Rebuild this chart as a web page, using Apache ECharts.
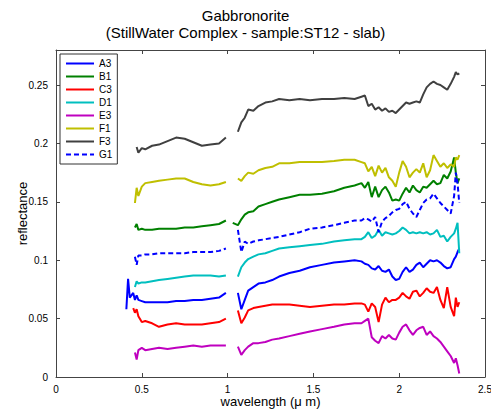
<!DOCTYPE html>
<html>
<head>
<meta charset="utf-8">
<script src="https://cdn.jsdelivr.net/npm/echarts@6/dist/echarts.min.js"></script>
<style>
  html, body { margin: 0; padding: 0; background: #fff; }
  #chart { width: 491px; height: 410px; }
</style>
</head>
<body>
<div id="chart"></div>
<script>
// wavelength (um), null = gap around 1 um
var wavelength = [
  0.41, 0.42, 0.43, 0.45, 0.46, 0.47, 0.48, 0.50, 0.52, 0.56, 0.60, 0.65, 0.70, 0.75, 0.80, 0.85, 0.90, 0.95, 0.99,
  1.01,
  1.03, 1.06, 1.08, 1.10, 1.12, 1.15, 1.18, 1.22, 1.26, 1.30,
  1.36, 1.42, 1.48, 1.55, 1.62, 1.68, 1.74, 1.78, 1.80, 1.82,
  1.84, 1.86, 1.88, 1.90, 1.92, 1.94, 1.96, 1.98, 2.00, 2.02,
  2.04, 2.06, 2.08, 2.10, 2.12, 2.14, 2.16, 2.18, 2.20, 2.22,
  2.24, 2.26, 2.28, 2.30, 2.32, 2.33, 2.34, 2.35
];

var A3 = [
  0.058, 0.084, 0.068, 0.072, 0.066, 0.070, 0.066, 0.065, 0.064, 0.064, 0.064, 0.064, 0.065, 0.065, 0.066, 0.066, 0.067, 0.068, 0.072,
  null,
  null, 0.072, 0.058, 0.066, 0.074, 0.077, 0.080, 0.081, 0.083, 0.086,
  0.089, 0.091, 0.094, 0.096, 0.098, 0.099, 0.100, 0.099, 0.097, 0.096,
  0.093, 0.092, 0.095, 0.091, 0.090, 0.092, 0.086, 0.083, 0.084, 0.090,
  0.094, 0.090, 0.092, 0.096, 0.098, 0.094, 0.097, 0.100, 0.099, 0.100,
  0.098, 0.095, 0.093, 0.094, 0.101, 0.103, 0.107, 0.110
];
var B1 = [
  null, null, null, null, 0.128, 0.131, 0.126, 0.127, 0.126, 0.126, 0.127, 0.127, 0.127, 0.128, 0.128, 0.129, 0.130, 0.131, 0.134,
  null,
  0.132, 0.130, 0.135, 0.139, 0.141, 0.142, 0.146, 0.148, 0.150, 0.152,
  0.154, 0.156, 0.156, 0.157, 0.159, 0.162, 0.164, 0.166, 0.162, 0.167,
  0.154, 0.163, 0.154, 0.160, 0.163, 0.158, 0.151, 0.152, 0.151, 0.157,
  0.162, 0.158, 0.164, 0.160, 0.158, 0.163, 0.162, 0.165, 0.168, 0.165,
  0.166, 0.173, 0.170, 0.176, 0.188, 0.175, 0.166, 0.170
];
var C3 = [
  null, null, null, 0.059, 0.055, 0.058, 0.052, 0.047, 0.048, 0.046, 0.043, 0.045, 0.046, 0.045, 0.045, 0.045, 0.046, 0.047, 0.050,
  null,
  null, 0.057, 0.046, 0.051, 0.057, 0.059, 0.060, 0.061, 0.062, 0.062,
  0.062, 0.061, 0.060, 0.061, 0.062, 0.062, 0.063, 0.063, 0.062, 0.056,
  0.063, 0.060, 0.047, 0.062, 0.068, 0.064, 0.066, 0.066, 0.068, 0.072,
  0.069, 0.067, 0.073, 0.074, 0.069, 0.072, 0.076, 0.073, 0.072, 0.077,
  0.066, 0.059, 0.077, 0.060, 0.052, 0.068, 0.060, 0.064
];
var D1 = [
  null, null, null, null, 0.077, 0.082, 0.080, 0.081, 0.081, 0.082, 0.083, 0.084, 0.085, 0.086, 0.087, 0.087, 0.087, 0.086, 0.087,
  null,
  null, 0.086, 0.094, 0.098, 0.101, 0.103, 0.105, 0.106, 0.108, 0.110,
  0.111, 0.112, 0.113, 0.114, 0.116, 0.117, 0.118, 0.118, 0.120, 0.124,
  0.119, 0.121, 0.126, 0.121, 0.124, 0.123, 0.122, 0.123, 0.125, 0.128,
  0.126, 0.123, 0.124, 0.123, 0.124, 0.123, 0.124, 0.122, 0.123, 0.126,
  0.120, 0.121, 0.116, 0.120, 0.123, 0.127, 0.132, 0.106
];
var E3 = [
  null, null, null, null, 0.021, 0.015, 0.023, 0.025, 0.023, 0.024, 0.025, 0.024, 0.025, 0.026, 0.027, 0.026, 0.027, 0.027, 0.027,
  null,
  null, 0.026, 0.019, 0.023, 0.026, 0.029, 0.029, 0.030, 0.032, 0.033,
  0.035, 0.037, 0.039, 0.041, 0.043, 0.045, 0.046, 0.046, 0.048, 0.050,
  0.034, 0.031, 0.029, 0.035, 0.033, 0.036, 0.033, 0.032, 0.038, 0.043,
  0.045, 0.040, 0.036, 0.040, 0.042, 0.043, 0.036, 0.039, 0.035, 0.033,
  0.030, 0.026, 0.022, 0.018, 0.012, 0.016, 0.010, 0.003
];
var F1 = [
  null, null, null, null, 0.149, 0.162, 0.155, 0.163, 0.166, 0.167, 0.168, 0.169, 0.170, 0.170, 0.167, 0.165, 0.164, 0.165, 0.167,
  null,
  null, 0.170, 0.168, 0.172, 0.175, 0.174, 0.177, 0.179, 0.180, 0.183,
  0.183, 0.184, 0.184, 0.184, 0.185, 0.186, 0.186, 0.184, 0.183, 0.176,
  0.180, 0.172, 0.181, 0.175, 0.179, 0.171, 0.168, 0.163, 0.175, 0.185,
  0.180, 0.171, 0.175, 0.178, 0.175, 0.183, 0.171, 0.177, 0.190, 0.185,
  0.180, 0.183, 0.179, 0.182, 0.180, 0.188, 0.186, 0.190
];
var F3 = [
  null, null, null, null, null, 0.197, 0.192, 0.196, 0.195, 0.198, 0.199, 0.202, 0.205, 0.204, 0.201, 0.198, 0.199, 0.200, 0.205,
  null,
  null, 0.210, 0.218, 0.222, 0.229, 0.228, 0.232, 0.235, 0.236, 0.238,
  0.237, 0.238, 0.237, 0.238, 0.238, 0.239, 0.238, 0.240, 0.241, 0.232,
  0.234, 0.229, 0.231, 0.228, 0.230, 0.227, 0.228, 0.226, 0.229, 0.232,
  0.235, 0.234, 0.235, 0.236, 0.235, 0.242, 0.248, 0.251, 0.253, 0.251,
  0.250, 0.248, 0.246, 0.251, 0.257, 0.261, 0.259, 0.260
];
var G1 = [
  null, null, null, null, 0.103, 0.096, 0.104, 0.104, 0.105, 0.105, 0.106, 0.106, 0.106, 0.106, 0.107, 0.107, 0.107, 0.108, 0.110,
  null,
  null, 0.126, 0.107, 0.116, 0.114, 0.116, 0.117, 0.118, 0.119, 0.120,
  0.122, 0.124, 0.127, 0.128, 0.130, 0.132, 0.134, 0.134, 0.136, 0.135,
  0.133, 0.137, 0.124, 0.133, 0.136, 0.138, 0.141, 0.143, 0.144, 0.148,
  0.150, 0.144, 0.140, 0.137, 0.143, 0.149, 0.152, 0.153, 0.157, 0.153,
  0.149, 0.146, 0.143, 0.140, 0.155, 0.175, 0.166, 0.149
];

var sampleNames = ['A3', 'B1', 'C3', 'D1', 'E3', 'F1', 'F3', 'G1'];
var sampleValues = [A3, B1, C3, D1, E3, F1, F3, G1];
var sampleColors = ['#0000ff', '#008000', '#ff0000', '#00bfbf', '#bf00bf', '#bfbf00', '#404040', '#0000ff'];

var dom = document.getElementById('chart');
var myChart = echarts.init(dom, null, {
  renderer: 'svg',
  useDirtyRect: false
});

var font = 'Liberation Sans, Arial, Helvetica, sans-serif';

var series = sampleNames.map(function (name, k) {
  return {
    name: name,
    type: 'line',
    xAxisIndex: 0,
    yAxisIndex: 0,
    symbol: 'none',
    showSymbol: false,
    connectNulls: false,
    animation: false,
    data: wavelength.map(function (x, i) {
      var v = sampleValues[k][i];
      return [x, v === null ? '-' : v];
    }),
    itemStyle: { color: sampleColors[k] },
    lineStyle: {
      color: sampleColors[k],
      width: 2,
      type: name === 'G1' ? [5, 3] : 'solid'
    }
  };
});

// box axes (top / right) only draw ticks
function frameAxis(pos) {
  return {
    type: 'value',
    position: pos,
    min: 0,
    max: pos === 'top' ? 2.5 : 0.28,
    interval: pos === 'top' ? 0.5 : 0.05,
    axisLine: { show: true, onZero: false, lineStyle: { color: '#444', width: 1 } },
    axisTick: { show: true, inside: true, length: 4, lineStyle: { color: '#444' } },
    axisLabel: { show: false },
    splitLine: { show: false }
  };
}

var option = {
  animation: false,
  backgroundColor: '#fff',
  title: {
    text: 'Gabbronorite',
    subtext: '(StillWater Complex - sample:ST12 - slab)',
    left: 'center',
    top: 0,
    itemGap: 2,
    padding: [8, 0, 0, 49],
    textStyle: {
      fontFamily: font,
      fontSize: 15,
      fontWeight: 'normal',
      color: '#000',
      lineHeight: 15
    },
    subtextStyle: {
      fontFamily: font,
      fontSize: 15,
      color: '#000',
      lineHeight: 15
    }
  },
  legend: {
    data: sampleNames,
    orient: 'vertical',
    left: 60,
    top: 54,
    itemWidth: 28,
    itemHeight: 10,
    itemGap: 0,
    padding: [3, 5, 3, 5],
    borderColor: '#333',
    borderWidth: 1,
    backgroundColor: '#fff',
    itemStyle: { color: 'rgba(0,0,0,0)', opacity: 0, borderWidth: 0 },
    textStyle: { fontFamily: font, fontSize: 10, color: '#000', lineHeight: 13 }
  },
  grid: {
    left: 56,
    right: 6,
    top: 50,
    bottom: 33,
    containLabel: false,
    outerBoundsMode: 'none'
  },
  xAxis: [
    {
      type: 'value',
      min: 0,
      max: 2.5,
      interval: 0.5,
      name: 'wavelength (\u03bc m)',
      nameLocation: 'middle',
      nameGap: 18,
      nameMoveOverlap: false,
      nameTextStyle: { fontFamily: font, fontSize: 13, color: '#000' },
      axisLine: { show: true, onZero: false, lineStyle: { color: '#444', width: 1 } },
      axisTick: { show: true, inside: true, length: 4, lineStyle: { color: '#444' } },
      axisLabel: { fontFamily: font, fontSize: 10, color: '#000', margin: 7 },
      splitLine: { show: false }
    },
    frameAxis('top')
  ],
  yAxis: [
    {
      type: 'value',
      min: 0,
      max: 0.28,
      interval: 0.05,
      name: 'reflectance',
      nameLocation: 'middle',
      nameGap: 27,
      nameMoveOverlap: false,
      nameRotate: 90,
      nameTextStyle: { fontFamily: font, fontSize: 13, color: '#000' },
      axisLine: { show: true, onZero: false, lineStyle: { color: '#444', width: 1 } },
      axisTick: { show: true, inside: true, length: 4, lineStyle: { color: '#444' } },
      axisLabel: { fontFamily: font, fontSize: 10, color: '#000', margin: 8, showMaxLabel: false },
      splitLine: { show: false }
    },
    frameAxis('right')
  ],
  series: series
};

if (option && typeof option === 'object') {
  myChart.setOption(option);
}

window.addEventListener('resize', myChart.resize);
</script>
</body>
</html>
